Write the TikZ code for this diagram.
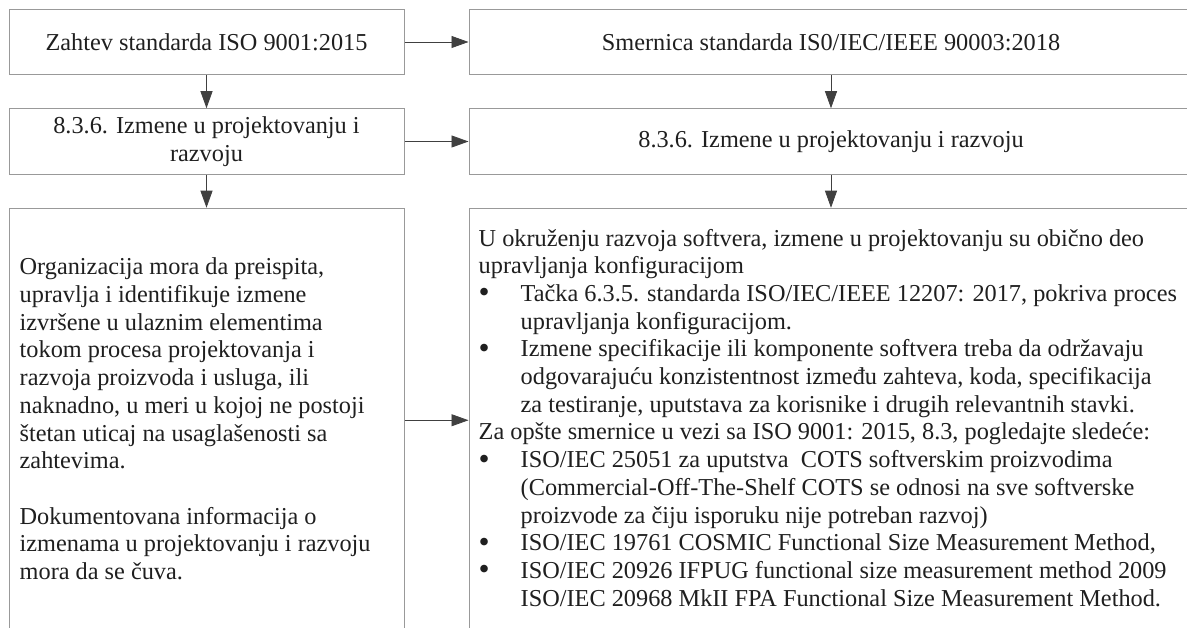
\documentclass[tikz,border=0pt]{standalone}
\usepackage{fontspec}
\setmainfont{Liberation Serif}
\usetikzlibrary{positioning,arrows.meta}

\newcommand{\bitem}{\makebox[42pt][l]{\raisebox{-1.5pt}{\scalebox{1.3}{\textbullet}}}}
\newcommand{\bcont}{\hspace*{42pt}}

\begin{document}
\begin{tikzpicture}[x=1pt,y=1pt,
    every node/.style={font=\fontsize{24.3}{27.7}\selectfont, text=black!88},
    box/.style={draw=black!40, line width=1pt, minimum height=65.5pt, inner sep=0pt, align=center},
    lbox/.style={box, minimum width=395pt},
    rbox/.style={box, minimum width=724pt},
    arr/.style={draw=black!75, line width=0.8pt, -{Triangle[length=17pt,width=12pt]}},
    node distance=33pt and 64pt]
  \useasboundingbox (0,0) rectangle (1187,-628);
  \clip (0,0) rectangle (1187,-628);

  % left column: ISO 9001
  \node[lbox] (zahtev) at (206.5,-42) {Zahtev standarda ISO 9001:2015};
  \node[lbox, below=of zahtev] (lizm) {8.3.6. Izmene u projektovanju i\\razvoju};
  \node[lbox, below=of lizm, minimum height=424pt] (lchg) {};

  % right column: ISO/IEC/IEEE 90003
  \node[rbox, right=of zahtev] (smernica) {Smernica standarda IS0/IEC/IEEE 90003:2018};
  \node[rbox, right=of lizm] (rizm) {8.3.6. Izmene u projektovanju i razvoju};
  \node[rbox, right=of lchg, minimum height=424pt] (rchg) {};

  \node[anchor=north west, align=left, inner sep=0pt] (ltxt) at ([xshift=11pt,yshift=-50pt]lchg.north west)
    {Organizacija mora da preispita,\\
     upravlja i identifikuje izmene\\
     izvršene u ulaznim elementima\\
     tokom procesa projektovanja i\\
     razvoja proizvoda i usluga, ili\\
     naknadno, u meri u kojoj ne postoji\\
     štetan uticaj na usaglašenosti sa\\
     zahtevima.\\
     ~\\
     Dokumentovana informacija o\\
     izmenama u projektovanju i razvoju\\
     mora da se čuva.};

  \node[anchor=north west, align=left, inner sep=0pt] (rtxt) at ([xshift=10pt,yshift=-21pt]rchg.north west)
    {U okruženju razvoja softvera, izmene u projektovanju su obično deo\\
     upravljanja konfiguracijom\\
     \bitem Tačka 6.3.5. standarda ISO/IEC/IEEE 12207: 2017, pokriva proces\\
     \bcont upravljanja konfiguracijom.\\
     \bitem Izmene specifikacije ili komponente softvera treba da održavaju\\
     \bcont odgovarajuću konzistentnost između zahteva, koda, specifikacija\\
     \bcont za testiranje, uputstava za korisnike i drugih relevantnih stavki.\\
     Za opšte smernice u vezi sa ISO 9001: 2015, 8.3, pogledajte sledeće:\\
     \bitem ISO/IEC 25051 za uputstva~ COTS softverskim proizvodima\\
     \bcont (Commercial-Off-The-Shelf COTS se odnosi na sve softverske\\
     \bcont proizvode za čiju isporuku nije potreban razvoj)\\
     \bitem ISO/IEC 19761 COSMIC Functional Size Measurement Method,\\
     \bitem ISO/IEC 20926 IFPUG functional size measurement method 2009\\
     \bcont ISO/IEC 20968 MkII FPA Functional Size Measurement Method.};

  \draw[arr] (zahtev) -- (smernica);
  \draw[arr] (lizm) -- (rizm);
  \draw[arr] (lchg) -- (rchg);
  \draw[arr] (zahtev) -- (lizm);
  \draw[arr] (lizm) -- (lchg);
  \draw[arr] (smernica) -- (rizm);
  \draw[arr] (rizm) -- (rchg);
\end{tikzpicture}
\end{document}
